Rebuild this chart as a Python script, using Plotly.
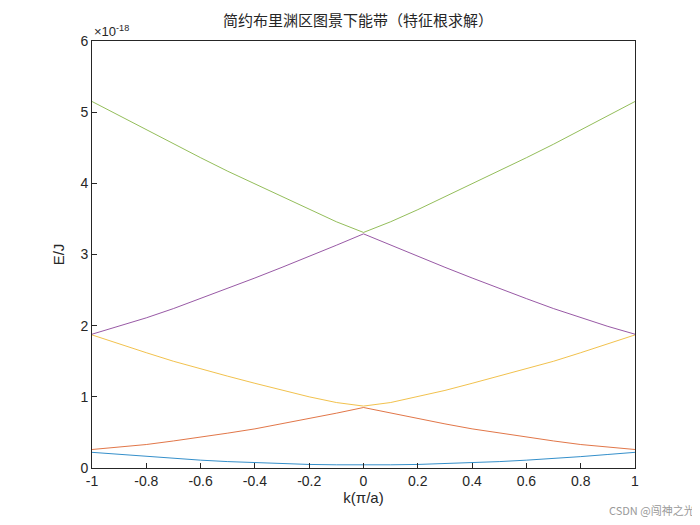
import plotly.graph_objects as go

k_half = [0.0, 0.1, 0.2, 0.3, 0.4, 0.5, 0.6, 0.7, 0.8, 0.9, 1.0]
band1 = [0.04, 0.045, 0.05, 0.06, 0.075, 0.09, 0.11, 0.13, 0.16, 0.19, 0.22]
band2 = [0.85, 0.77, 0.69, 0.62, 0.55, 0.49, 0.43, 0.38, 0.33, 0.29, 0.26]
band3 = [0.87, 0.92, 1.00, 1.09, 1.19, 1.29, 1.39, 1.50, 1.62, 1.74, 1.87]
band4 = [3.29, 3.13, 2.97, 2.82, 2.67, 2.52, 2.38, 2.24, 2.11, 1.99, 1.88]
band5 = [3.31, 3.46, 3.63, 3.81, 3.99, 4.17, 4.36, 4.55, 4.75, 4.95, 5.15]
colors = ["#0072BD", "#D95319", "#EDB120", "#7E2F8E", "#77AC30"]

k = [-v for v in k_half[::-1]] + k_half[1:]
def sym(b):
    return b[::-1] + b[1:]

fig = go.Figure()
for b, c in zip([band1, band2, band3, band4, band5], colors):
    fig.add_trace(go.Scatter(x=k, y=sym(b), mode="lines", line=dict(color=c, width=0.8), showlegend=False))

ax = dict(showline=True, linecolor="#262626", linewidth=1, mirror=True, ticks="inside",
          ticklen=5, tickcolor="#262626", showgrid=False, zeroline=False, automargin=False,
          tickfont=dict(family="Liberation Sans, Arial", size=14, color="#262626"))
fig.update_xaxes(ax, range=[-1, 1], tickvals=[-1, -0.8, -0.6, -0.4, -0.2, 0, 0.2, 0.4, 0.6, 0.8, 1],
                 ticktext=["-1", "-0.8", "-0.6", "-0.4", "-0.2", "0", "0.2", "0.4", "0.6", "0.8", "1"],
                 title=dict(text="k(π/a)", font=dict(size=15, color="#262626", family="Liberation Sans"), standoff=4))
fig.update_yaxes(ax, range=[0, 6], tickvals=[0, 1, 2, 3, 4, 5, 6],
                 title=dict(text="E/J", font=dict(size=15, color="#262626", family="Liberation Sans"), standoff=12))
fig.update_layout(
    width=700, height=525, plot_bgcolor="white", paper_bgcolor="white",
    margin=dict(l=84, r=73, t=33, b=65, autoexpand=False),
    title=dict(text="简约布里渊区图景下能带（特征根求解）", x=0.5, xanchor="center", y=0.985, yanchor="top",
               font=dict(family="Noto Sans CJK SC", size=15, color="#262626")),
    annotations=[
        dict(text="×10<sup>-18</sup>", xref="paper", yref="paper", x=0, y=1, xanchor="left", yanchor="bottom",
             showarrow=False, font=dict(family="Liberation Sans", size=13, color="#262626")),
        dict(text="CSDN @闯神之光", xref="paper", yref="paper", x=1.115, y=-0.075, xanchor="right", yanchor="top",
             showarrow=False, font=dict(family="Noto Sans CJK SC", size=11, color="#999999")),
    ],
)
fig.write_html("out.html")
